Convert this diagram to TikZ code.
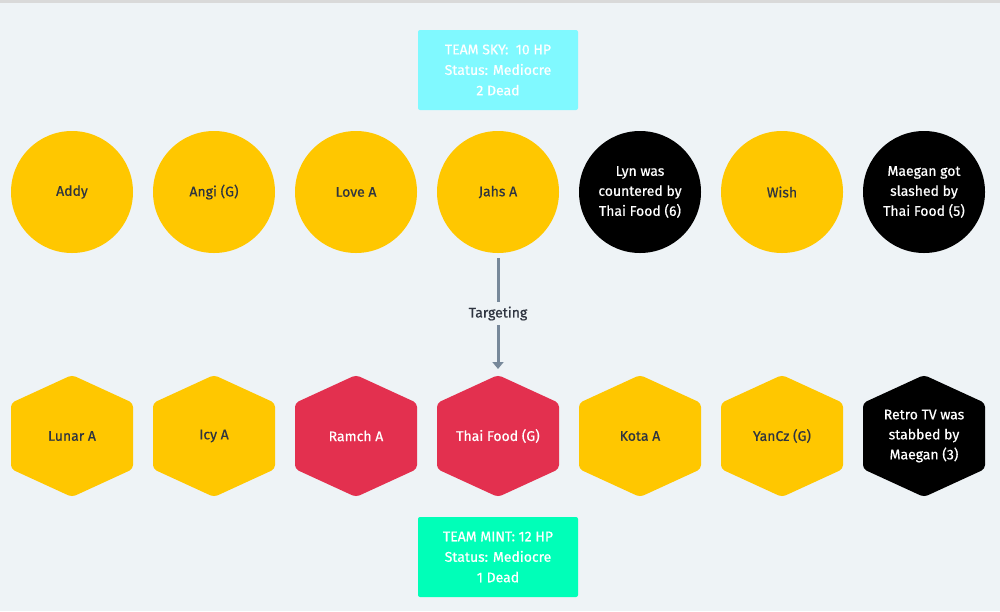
\documentclass[tikz,border=0pt]{standalone}
\usepackage{fontspec}
\setmainfont{Fira Sans}[UprightFeatures={FakeBold=0.6}]
\usetikzlibrary{arrows.meta}
\definecolor{bg}{HTML}{EEF3F6}
\definecolor{gold}{HTML}{FFC700}
\definecolor{crim}{HTML}{E3304F}
\definecolor{sky}{HTML}{80F9FF}
\definecolor{mint}{HTML}{00FFB8}
\definecolor{ink}{HTML}{2E3440}
\definecolor{arr}{HTML}{77889A}
\tikzset{
  circ/.style={circle, minimum size=122pt, inner sep=0pt, align=center, font=\fontsize{14}{20}\selectfont, text=ink},
  alive/.style={circ, fill=gold},
  dead/.style={circ, fill=black, text=white},
  teambox/.style={rectangle, rounded corners=2pt, minimum width=160pt, minimum height=80pt, align=center, text=white, font=\fontsize{14}{20.5}\selectfont},
  hexfill/.style={rounded corners=4pt},
}
\newcommand{\hexa}[4]{% x, y, color, name
  \fill[#3, hexfill] (#1,#2-61) -- (#1+61,#2-33) -- (#1+61,#2+33) -- (#1,#2+61) -- (#1-61,#2+33) -- (#1-61,#2-33) -- cycle;
  \coordinate (#4) at (#1,#2);
}
\begin{document}
\begin{tikzpicture}[x=1pt,y=-1pt]
\useasboundingbox (0,0) rectangle (1000,611);
\fill[bg] (0,0) rectangle (1000,611);
\fill[black!15] (0,0) rectangle (1000,3);
% team boxes
\node[teambox, fill=sky] (sky) at (498,70) {TEAM SKY:\ \ 10 HP\\Status: Mediocre\\2 Dead};
\node[teambox, fill=mint] (mint) at (498,557) {TEAM MINT: 12 HP\\Status: Mediocre\\1 Dead};
% circles
\node[alive] (addy) at (72,192) {Addy};
\node[alive] (angi) at (214,192) {Angi (G)};
\node[alive] (love) at (356,192) {Love A};
\node[alive] (jahs) at (498,192) {Jahs A};
\node[dead] (lyn) at (640,192) {Lyn was\\countered by\\Thai Food (6)};
\node[alive] (wish) at (782,192) {Wish};
\node[dead] (maegan) at (924,192) {Maegan got\\slashed by\\Thai Food (5)};
% hexagons
\hexa{72}{436}{gold}{lunarc}
\hexa{214}{436}{gold}{icyc}
\hexa{356}{436}{crim}{ramchc}
\hexa{498}{436}{crim}{thaic}
\hexa{640}{436}{gold}{kotac}
\hexa{782}{436}{gold}{yanczc}
\hexa{924}{436}{black}{retroc}
\node[circ, minimum size=0pt] (lunar) at (lunarc) {Lunar A};
\node[circ, minimum size=0pt] (icy) at (icyc) {Icy A};
\node[circ, minimum size=0pt, text=white] (ramch) at (ramchc) {Ramch A};
\node[circ, minimum size=0pt, text=white] (thai) at (thaic) {Thai Food (G)};
\node[circ, minimum size=0pt] (kota) at (kotac) {Kota A};
\node[circ, minimum size=0pt] (yancz) at (yanczc) {YanCz (G)};
\node[circ, minimum size=0pt, text=white] (retro) at (retroc) {Retro TV was\\stabbed by\\Maegan (3)};
% connector
\coordinate (tstart) at (498,258);
\coordinate (tend) at (498,369);
\draw[arr, line width=3pt, -{Triangle[length=7pt,width=11pt]}] (tstart) -- node[fill=bg, text=ink, font=\fontsize{14}{16}\selectfont, inner ysep=5pt] (tlabel) {Targeting} (tend);
\end{tikzpicture}
\end{document}
